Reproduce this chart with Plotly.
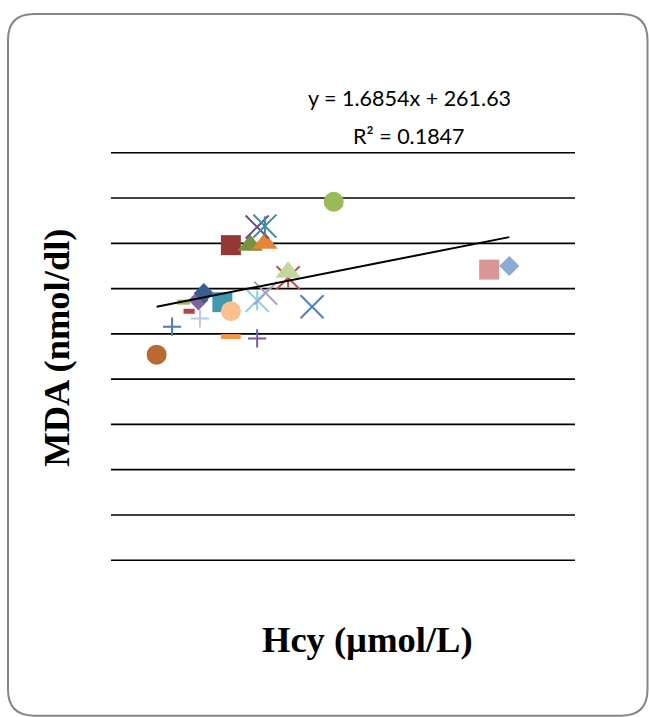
import plotly.graph_objects as go

# ---- data ----
hcy = [10.9, 12.9, 16.5, 15.1, 14.4, 16.3, 17.0, 19.4, 20.5, 20.5, 23.9, 23.9,
       25.0, 27.9, 27.9, 31.0, 20.5, 23.0, 24.9, 23.9, 24.9, 33.8, 53.9, 56.5]
mda = [227, 258, 267, 275, 285, 287, 295, 285, 275, 247, 245, 287,
       295, 312, 318, 280, 348, 348, 350, 368, 369, 396, 321, 325]

slope = 1.6854
intercept = 261.63
equation_text = "y = 1.6854x + 261.63"
r2_text = "R² = 0.1847"
x_title = "Hcy (µmol/L)"
y_title = "MDA (nmol/dl)"
y_gridlines = [0, 50, 100, 150, 200, 250, 300, 350, 400, 450]

# ---- styles (one per point, in drawing order) ----
kinds = ["circle", "plus", "plus", "dash", "dash", "diamond", "diamond", "square",
         "circle", "dash", "plus", "star", "x", "star", "triangle", "x",
         "square", "triangle", "triangle", "x", "star", "circle", "square", "diamond"]
colors = ["#B96A32", "#4A7EBB", "#B9C8E3", "#B04545", "#9BBB59", "#7F62A1", "#3A5F8E", "#4198AF",
          "#FAC08F", "#F79646", "#7A5C9E", "#93CDDD", "#A99BC8", "#C0504D", "#C3D69B", "#4F81BD",
          "#953735", "#77933C", "#E6843A", "#6E4C8F", "#3A8CA5", "#9BBB59", "#D99694", "#8EA9D4"]
dash_sizes = {3: 8, 4: 9}

fig = go.Figure()

def add(x, y, **marker):
    fig.add_trace(go.Scatter(x=[x], y=[y], mode="markers", marker=marker,
                             showlegend=False, hoverinfo="skip"))

for i, (x, y, k, c) in enumerate(zip(hcy, mda, kinds, colors)):
    if k == "circle":
        add(x, y, symbol="circle", size=20, color=c, line=dict(width=0))
    elif k == "square":
        add(x, y, symbol="square", size=20, color=c, line=dict(width=0))
    elif k == "diamond":
        add(x, y, symbol="diamond", size=15.5, color=c, line=dict(width=0))
    elif k == "triangle":
        add(x, y, symbol="triangle-up", size=22, color=c, line=dict(width=0))
    elif k == "plus":
        add(x, y, symbol="cross-thin", size=13, color=c, line=dict(width=2, color=c))
    elif k == "x":
        add(x, y, symbol="x-thin", size=23, color=c, line=dict(width=2, color=c))
    elif k == "star":
        add(x, y, symbol="x-thin", size=23, color=c, line=dict(width=2, color=c))
        add(x, y, symbol="line-ns", size=14, color=c, line=dict(width=2, color=c))
    elif k == "dash":
        add(x, y, symbol="line-ew", size=dash_sizes.get(i, 14), color=c, line=dict(width=5, color=c))

# trendline from regression equation across the data range
x0, x1 = min(hcy), max(hcy)
fig.add_trace(go.Scatter(x=[x0, x1], y=[slope * x0 + intercept, slope * x1 + intercept],
                         mode="lines", line=dict(color="black", width=2),
                         showlegend=False, hoverinfo="skip"))

W, H = 649, 717
pad_units = 2.0                      # small padding so edge gridlines are not clipped
px_per_unit = 407.0 / 450.0
pad_px = pad_units * px_per_unit
L, R, T, B = 111, 74, 152.7 - pad_px, 157.3 - pad_px
pw, ph = W - L - R, H - T - B

def px(xp):
    return (xp - L) / pw

def py(yp):
    return 1 - (yp - T) / ph

fig.update_layout(
    width=W, height=H,
    margin=dict(l=L, r=R, t=T, b=B, pad=0),
    paper_bgcolor="white", plot_bgcolor="white",
    xaxis=dict(range=[5, 65], showgrid=False, zeroline=False, showline=False,
               showticklabels=False, ticks=""),
    yaxis=dict(range=[min(y_gridlines) - pad_units, max(y_gridlines) + pad_units],
               showgrid=False, zeroline=False, showline=False, showticklabels=False, ticks=""),
)

# horizontal major gridlines
for g in y_gridlines:
    fig.add_shape(type="line", xref="paper", yref="y", x0=0, x1=1, y0=g, y1=g,
                  line=dict(color="black", width=1.6), layer="below")

# text annotations
fig.add_annotation(x=px(409), y=py(98), xref="paper", yref="paper", text=equation_text,
                   showarrow=False, font=dict(family="Lato", size=21.5, color="black"),
                   xanchor="center", yanchor="middle")
fig.add_annotation(x=px(409), y=py(135.5), xref="paper", yref="paper", text=r2_text,
                   showarrow=False, font=dict(family="Lato", size=21.5, color="black"),
                   xanchor="center", yanchor="middle")
fig.add_annotation(x=px(367), y=py(639), xref="paper", yref="paper", text="<b>" + x_title + "</b>",
                   showarrow=False, font=dict(family="Liberation Serif", size=36.5, color="black"),
                   xanchor="center", yanchor="middle")
fig.add_annotation(x=px(57), y=py(347.5), xref="paper", yref="paper", text="<b>" + y_title + "</b>",
                   showarrow=False, textangle=-90,
                   font=dict(family="Liberation Serif", size=36.5, color="black"),
                   xanchor="center", yanchor="middle")

# rounded chart border
l, r, t, b, rad = 8, 647.5, 14, 715, 26
path = (f"M {px(l + rad)},{py(t)} L {px(r - rad)},{py(t)} Q {px(r)},{py(t)} {px(r)},{py(t + rad)} "
        f"L {px(r)},{py(b - rad)} Q {px(r)},{py(b)} {px(r - rad)},{py(b)} "
        f"L {px(l + rad)},{py(b)} Q {px(l)},{py(b)} {px(l)},{py(b - rad)} "
        f"L {px(l)},{py(t + rad)} Q {px(l)},{py(t)} {px(l + rad)},{py(t)} Z")
fig.add_shape(type="path", path=path, xref="paper", yref="paper",
              line=dict(color="#868686", width=2), layer="below")

fig.write_html("out.html")
